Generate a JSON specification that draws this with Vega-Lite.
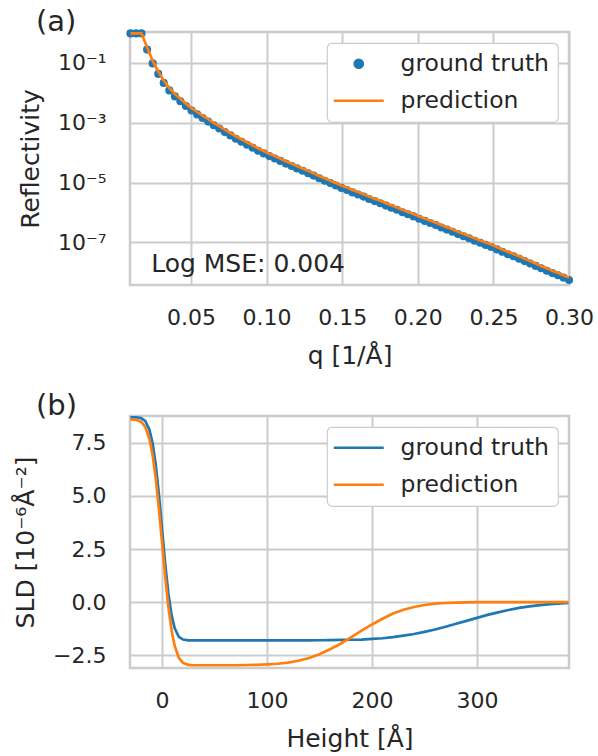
{
  "$schema": "https://vega.github.io/schema/vega-lite/v6.json",
  "background": "white",
  "padding": {"left": 12, "top": 6, "right": 30, "bottom": 4},
  "config": {
    "font": "DejaVu Sans",
    "view": {"stroke": "#cccccc", "strokeWidth": 2.5},
    "axis": {"grid": true, "gridColor": "#cccccc", "gridWidth": 2, "domain": false, "ticks": false, "labelFontSize": 22, "labelColor": "#262626", "titleFontSize": 25, "titleColor": "#262626", "titleFontWeight": "normal", "labelFlush": false, "labelOverlap": false},
    "axisX": {"labelPadding": 22, "titlePadding": 15},
    "axisY": {"labelPadding": 24, "titlePadding": 14},
    "title": {"fontSize": 29, "fontWeight": "normal", "color": "#262626", "anchor": "start", "frame": "group", "dx": -94, "offset": -9, "baseline": "alphabetic"},
    "legend": {"orient": "top-right", "offset": 11, "fillColor": "white", "strokeColor": "#cccccc", "strokeWidth": 1.2, "cornerRadius": 5, "padding": 9, "labelFontSize": 23.5, "labelColor": "#262626", "labelLimit": 300, "symbolType": "M-2.5,0H2.5", "symbolSize": 400, "symbolStrokeWidth": 2.7, "symbolOffset": 11, "labelOffset": 30, "rowPadding": 12}
  },
  "datasets": {
    "refl": [
      {"q": 0.0100, "gt": 0.933, "pred": 0.933},
      {"q": 0.0137, "gt": 0.933, "pred": 0.933},
      {"q": 0.0173, "gt": 0.933, "pred": 0.933},
      {"q": 0.0210, "gt": 2.692e-1, "pred": 3.236e-1},
      {"q": 0.0247, "gt": 9.333e-2, "pred": 1.122e-1},
      {"q": 0.0284, "gt": 4.169e-2, "pred": 5.012e-2},
      {"q": 0.0320, "gt": 2.089e-2, "pred": 2.512e-2},
      {"q": 0.0357, "gt": 1.175e-2, "pred": 1.413e-2},
      {"q": 0.0394, "gt": 7.413e-3, "pred": 8.913e-3},
      {"q": 0.0430, "gt": 5.129e-3, "pred": 6.166e-3},
      {"q": 0.0467, "gt": 3.548e-3, "pred": 4.266e-3},
      {"q": 0.0504, "gt": 2.512e-3, "pred": 3.020e-3},
      {"q": 0.0541, "gt": 1.862e-3, "pred": 2.239e-3},
      {"q": 0.0577, "gt": 1.413e-3, "pred": 1.698e-3},
      {"q": 0.0614, "gt": 1.072e-3, "pred": 1.288e-3},
      {"q": 0.0651, "gt": 8.128e-4, "pred": 9.772e-4},
      {"q": 0.0687, "gt": 6.310e-4, "pred": 7.586e-4},
      {"q": 0.0724, "gt": 4.786e-4, "pred": 5.754e-4},
      {"q": 0.0761, "gt": 3.715e-4, "pred": 4.467e-4},
      {"q": 0.0797, "gt": 2.884e-4, "pred": 3.467e-4},
      {"q": 0.0834, "gt": 2.291e-4, "pred": 2.754e-4},
      {"q": 0.0871, "gt": 1.820e-4, "pred": 2.188e-4},
      {"q": 0.0908, "gt": 1.445e-4, "pred": 1.738e-4},
      {"q": 0.0944, "gt": 1.148e-4, "pred": 1.380e-4},
      {"q": 0.0981, "gt": 9.333e-5, "pred": 1.122e-4},
      {"q": 0.1018, "gt": 7.586e-5, "pred": 9.120e-5},
      {"q": 0.1054, "gt": 6.310e-5, "pred": 7.586e-5},
      {"q": 0.1091, "gt": 5.248e-5, "pred": 6.310e-5},
      {"q": 0.1128, "gt": 4.266e-5, "pred": 5.129e-5},
      {"q": 0.1165, "gt": 3.548e-5, "pred": 4.266e-5},
      {"q": 0.1201, "gt": 2.951e-5, "pred": 3.548e-5},
      {"q": 0.1238, "gt": 2.455e-5, "pred": 2.951e-5},
      {"q": 0.1275, "gt": 2.042e-5, "pred": 2.455e-5},
      {"q": 0.1311, "gt": 1.698e-5, "pred": 2.042e-5},
      {"q": 0.1348, "gt": 1.380e-5, "pred": 1.660e-5},
      {"q": 0.1385, "gt": 1.148e-5, "pred": 1.380e-5},
      {"q": 0.1422, "gt": 9.550e-6, "pred": 1.148e-5},
      {"q": 0.1458, "gt": 7.943e-6, "pred": 9.550e-6},
      {"q": 0.1495, "gt": 6.607e-6, "pred": 7.943e-6},
      {"q": 0.1532, "gt": 5.623e-6, "pred": 6.761e-6},
      {"q": 0.1568, "gt": 4.677e-6, "pred": 5.623e-6},
      {"q": 0.1605, "gt": 3.981e-6, "pred": 4.786e-6},
      {"q": 0.1642, "gt": 3.388e-6, "pred": 4.074e-6},
      {"q": 0.1678, "gt": 2.818e-6, "pred": 3.388e-6},
      {"q": 0.1715, "gt": 2.399e-6, "pred": 2.884e-6},
      {"q": 0.1752, "gt": 2.042e-6, "pred": 2.455e-6},
      {"q": 0.1789, "gt": 1.698e-6, "pred": 2.042e-6},
      {"q": 0.1825, "gt": 1.445e-6, "pred": 1.738e-6},
      {"q": 0.1862, "gt": 1.230e-6, "pred": 1.479e-6},
      {"q": 0.1899, "gt": 1.023e-6, "pred": 1.230e-6},
      {"q": 0.1935, "gt": 8.710e-7, "pred": 1.047e-6},
      {"q": 0.1972, "gt": 7.413e-7, "pred": 8.913e-7},
      {"q": 0.2009, "gt": 6.166e-7, "pred": 7.413e-7},
      {"q": 0.2046, "gt": 5.248e-7, "pred": 6.310e-7},
      {"q": 0.2082, "gt": 4.467e-7, "pred": 5.370e-7},
      {"q": 0.2119, "gt": 3.802e-7, "pred": 4.571e-7},
      {"q": 0.2156, "gt": 3.162e-7, "pred": 3.802e-7},
      {"q": 0.2192, "gt": 2.692e-7, "pred": 3.236e-7},
      {"q": 0.2229, "gt": 2.291e-7, "pred": 2.754e-7},
      {"q": 0.2266, "gt": 1.905e-7, "pred": 2.291e-7},
      {"q": 0.2303, "gt": 1.622e-7, "pred": 1.950e-7},
      {"q": 0.2339, "gt": 1.380e-7, "pred": 1.660e-7},
      {"q": 0.2376, "gt": 1.148e-7, "pred": 1.380e-7},
      {"q": 0.2413, "gt": 9.772e-8, "pred": 1.175e-7},
      {"q": 0.2449, "gt": 8.318e-8, "pred": 1.000e-7},
      {"q": 0.2486, "gt": 7.079e-8, "pred": 8.511e-8},
      {"q": 0.2523, "gt": 5.888e-8, "pred": 7.079e-8},
      {"q": 0.2559, "gt": 4.898e-8, "pred": 5.888e-8},
      {"q": 0.2596, "gt": 4.074e-8, "pred": 4.898e-8},
      {"q": 0.2633, "gt": 3.467e-8, "pred": 4.169e-8},
      {"q": 0.2670, "gt": 2.884e-8, "pred": 3.467e-8},
      {"q": 0.2706, "gt": 2.399e-8, "pred": 2.884e-8},
      {"q": 0.2743, "gt": 1.995e-8, "pred": 2.399e-8},
      {"q": 0.2780, "gt": 1.660e-8, "pred": 1.995e-8},
      {"q": 0.2816, "gt": 1.380e-8, "pred": 1.660e-8},
      {"q": 0.2853, "gt": 1.148e-8, "pred": 1.380e-8},
      {"q": 0.2890, "gt": 9.550e-9, "pred": 1.148e-8},
      {"q": 0.2927, "gt": 8.128e-9, "pred": 9.772e-9},
      {"q": 0.2963, "gt": 6.761e-9, "pred": 8.128e-9},
      {"q": 0.3000, "gt": 5.623e-9, "pred": 6.761e-9}
    ],
    "sld": [
      {"h": -30, "gt": 8.70, "pred": 8.60},
      {"h": -25, "gt": 8.70, "pred": 8.58},
      {"h": -20, "gt": 8.66, "pred": 8.49},
      {"h": -16, "gt": 8.53, "pred": 8.25},
      {"h": -12, "gt": 8.12, "pred": 7.68},
      {"h": -9, "gt": 7.49, "pred": 6.93},
      {"h": -6, "gt": 6.48, "pred": 5.84},
      {"h": -3, "gt": 5.08, "pred": 4.40},
      {"h": 0, "gt": 3.45, "pred": 2.82},
      {"h": 3, "gt": 1.82, "pred": 1.23},
      {"h": 6, "gt": 0.42, "pred": -0.21},
      {"h": 9, "gt": -0.59, "pred": -1.30},
      {"h": 12, "gt": -1.22, "pred": -2.05},
      {"h": 16, "gt": -1.63, "pred": -2.62},
      {"h": 20, "gt": -1.76, "pred": -2.86},
      {"h": 25, "gt": -1.80, "pred": -2.95},
      {"h": 30, "gt": -1.80, "pred": -2.97},
      {"h": 40, "gt": -1.80, "pred": -2.97},
      {"h": 50, "gt": -1.80, "pred": -2.97},
      {"h": 60, "gt": -1.80, "pred": -2.97},
      {"h": 70, "gt": -1.80, "pred": -2.97},
      {"h": 80, "gt": -1.80, "pred": -2.96},
      {"h": 90, "gt": -1.80, "pred": -2.95},
      {"h": 100, "gt": -1.80, "pred": -2.93},
      {"h": 110, "gt": -1.80, "pred": -2.90},
      {"h": 120, "gt": -1.80, "pred": -2.85},
      {"h": 130, "gt": -1.80, "pred": -2.76},
      {"h": 140, "gt": -1.80, "pred": -2.63},
      {"h": 150, "gt": -1.795, "pred": -2.45},
      {"h": 160, "gt": -1.79, "pred": -2.22},
      {"h": 170, "gt": -1.78, "pred": -1.96},
      {"h": 180, "gt": -1.77, "pred": -1.66},
      {"h": 190, "gt": -1.76, "pred": -1.34},
      {"h": 200, "gt": -1.73, "pred": -1.05},
      {"h": 210, "gt": -1.70, "pred": -0.78},
      {"h": 220, "gt": -1.65, "pred": -0.54},
      {"h": 230, "gt": -1.58, "pred": -0.36},
      {"h": 240, "gt": -1.50, "pred": -0.23},
      {"h": 250, "gt": -1.40, "pred": -0.135},
      {"h": 260, "gt": -1.29, "pred": -0.074},
      {"h": 270, "gt": -1.16, "pred": -0.04},
      {"h": 280, "gt": -1.02, "pred": -0.02},
      {"h": 290, "gt": -0.88, "pred": -0.01},
      {"h": 300, "gt": -0.74, "pred": -0.004},
      {"h": 310, "gt": -0.60, "pred": 0},
      {"h": 320, "gt": -0.48, "pred": 0},
      {"h": 330, "gt": -0.37, "pred": 0},
      {"h": 340, "gt": -0.27, "pred": 0},
      {"h": 350, "gt": -0.20, "pred": 0},
      {"h": 360, "gt": -0.14, "pred": 0},
      {"h": 370, "gt": -0.09, "pred": 0},
      {"h": 380, "gt": -0.06, "pred": 0},
      {"h": 387, "gt": -0.04, "pred": 0}
    ],
    "note": [
      {"q": 0.0237, "R": 1.07e-8, "label": "Log MSE: 0.004"}
    ]
  },
  "resolve": {"scale": {"color": "independent"}, "legend": {"color": "independent"}},
  "spacing": 20,
  "vconcat": [
    {
      "title": {"text": "(a)"},
      "width": 439,
      "height": 253,
      "layer": [
        {
          "data": {"name": "refl"},
          "mark": {"type": "point", "filled": true, "size": 66, "opacity": 1, "strokeWidth": 0},
          "encoding": {
            "x": {"field": "q", "type": "quantitative", "title": "q [1/Å]", "scale": {"domain": [0.0097, 0.3], "nice": false, "zero": false}, "axis": {"values": [0.05, 0.1, 0.15, 0.2, 0.25, 0.3], "format": ".2f"}},
            "y": {"field": "gt", "type": "quantitative", "title": "Reflectivity", "scale": {"type": "log", "domain": [3.83e-9, 1.04], "nice": false}, "axis": {"values": [1e-7, 1e-5, 1e-3, 1e-1], "labelExpr": "datum.value < 5e-7 ? '10⁻⁷' : datum.value < 5e-5 ? '10⁻⁵' : datum.value < 5e-3 ? '10⁻³' : '10⁻¹'"}},
            "color": {"datum": "ground truth", "type": "nominal", "scale": {"domain": ["ground truth", "prediction"], "range": ["#1f77b4", "#ff7f0e"]}, "legend": {"title": null, "encode": {"symbols": {"update": {"shape": {"signal": "datum.value === 'ground truth' ? 'M-0.4,0A0.4,0.4,0,1,1,0.4,0A0.4,0.4,0,1,1,-0.4,0Z' : 'M-2.5,0H2.5'"}, "fill": {"signal": "datum.value === 'ground truth' ? '#1f77b4' : 'transparent'"}, "stroke": {"signal": "datum.value === 'ground truth' ? 'transparent' : '#ff7f0e'"}, "opacity": {"value": 1}}}}}}
          }
        },
        {
          "data": {"name": "refl"},
          "mark": {"type": "line", "strokeWidth": 2.7},
          "encoding": {
            "x": {"field": "q", "type": "quantitative", "title": "q [1/Å]"},
            "y": {"field": "pred", "type": "quantitative", "title": "Reflectivity"},
            "color": {"datum": "prediction", "type": "nominal", "legend": {"title": null, "encode": {"symbols": {"update": {"shape": {"signal": "datum.value === 'ground truth' ? 'M-0.4,0A0.4,0.4,0,1,1,0.4,0A0.4,0.4,0,1,1,-0.4,0Z' : 'M-2.5,0H2.5'"}, "fill": {"signal": "datum.value === 'ground truth' ? '#1f77b4' : 'transparent'"}, "stroke": {"signal": "datum.value === 'ground truth' ? 'transparent' : '#ff7f0e'"}, "opacity": {"value": 1}}}}}}
          }
        },
        {
          "data": {"name": "note"},
          "mark": {"type": "text", "align": "left", "baseline": "alphabetic", "fontSize": 25, "color": "#262626"},
          "encoding": {
            "x": {"field": "q", "type": "quantitative", "title": "q [1/Å]"},
            "y": {"field": "R", "type": "quantitative", "title": "Reflectivity"},
            "text": {"field": "label"}
          }
        }
      ]
    },
    {
      "title": {"text": "(b)"},
      "width": 439,
      "height": 252,
      "data": {"name": "sld"},
      "layer": [
        {
          "mark": {"type": "line", "strokeWidth": 2.7},
          "encoding": {
            "x": {"field": "h", "type": "quantitative", "title": "Height [Å]", "scale": {"domain": [-30.5, 387.6], "nice": false, "zero": false}, "axis": {"values": [0, 100, 200, 300], "format": "d"}},
            "y": {"field": "gt", "type": "quantitative", "title": "SLD [10⁻⁶Å⁻²]", "scale": {"domain": [-3.1, 8.76], "nice": false, "zero": false}, "axis": {"values": [-2.5, 0, 2.5, 5, 7.5], "format": ".1f"}},
            "color": {"datum": "ground truth", "type": "nominal", "scale": {"domain": ["ground truth", "prediction"], "range": ["#1f77b4", "#ff7f0e"]}, "legend": {"title": null}}
          }
        },
        {
          "mark": {"type": "line", "strokeWidth": 2.7},
          "encoding": {
            "x": {"field": "h", "type": "quantitative", "title": "Height [Å]"},
            "y": {"field": "pred", "type": "quantitative", "title": "SLD [10⁻⁶Å⁻²]"},
            "color": {"datum": "prediction", "type": "nominal"}
          }
        }
      ]
    }
  ]
}
